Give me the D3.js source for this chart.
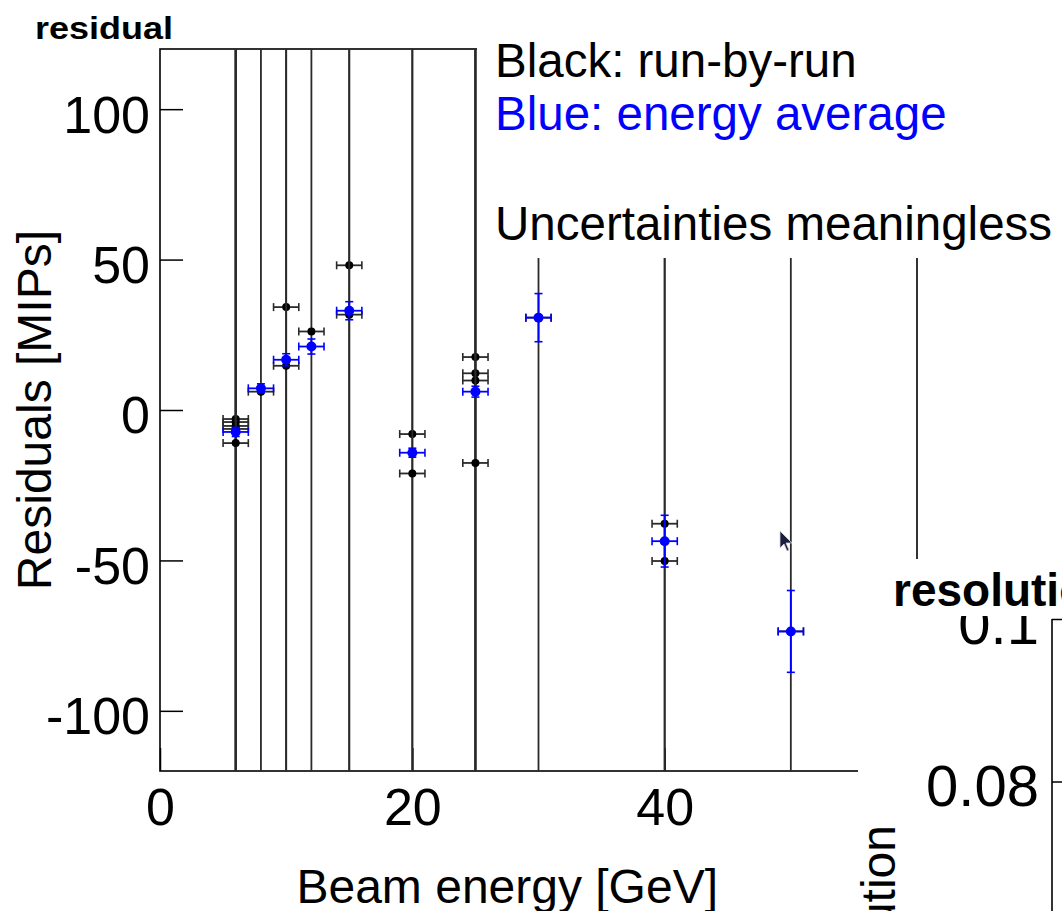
<!DOCTYPE html>
<html>
<head>
<meta charset="utf-8">
<script src="https://cdn.jsdelivr.net/npm/d3@7"></script>
<style>
  body { margin: 0; background: #fff; }
  text { font-family: "Liberation Sans", Arial, sans-serif; }
</style>
</head>
<body>
<script>
// run-by-run residuals (black), uncertainties meaningless -> huge y errors
var runEnergy   = [6, 6, 6, 6, 6, 8, 10, 10, 12, 15, 15, 20, 20, 25, 25, 25, 25, 30, 40, 40, 50];
var runResidual = [-3, -4, -5.3, -6.3, -11, 6.1, 34.2, 14.7, 26.1, 48.1, 31.7, -8, -21.1, 17.6, 12.2, 9.8, -17.6, 30.7, -37.8, -50.2, -73.6];
var runErrY     = [400, 400, 400, 400, 400, 400, 400, 400, 400, 400, 400, 400, 400, 400, 400, 400, 400, 400, 400, 400, 400];

// energy averaged residuals (blue)
var avgEnergy   = [6, 8, 10, 12, 15, 20, 25, 30, 40, 50];
var avgResidual = [-7.3, 7.2, 16.7, 21.1, 33, -14.2, 6.1, 30.7, -43.6, -73.6];
var avgErrY     = [1.5, 1.5, 2, 2.5, 3, 1.5, 1.8, 8, 8.6, 13.6];

var beamErrX = 1.0;

var xTicks = [0, 20, 40, 60];
var yTicks = [-100, -50, 0, 50, 100];
var resTicks = [0.08, 0.1];
var resTickLabels = ["0.08", "0.1"];

var width = 1062, height = 911;

var svg = d3.select("body")
  .append("svg")
  .attr("width", width)
  .attr("height", height);

var x = d3.scaleLinear().domain([0, 60]).range([160, 917]);
var y = d3.scaleLinear().domain([-120, 120]).range([771, 49]);

// title
svg.append("text")
  .attr("x", 35).attr("y", 39)
  .attr("textLength", 138).attr("lengthAdjust", "spacingAndGlyphs")
  .style("font-size", "31px").style("font-weight", "bold")
  .text("residual");

// axes (plain hyphen minus like ROOT)
var plain = function(d) { return String(d); };
var yAxis = svg.append("g")
  .attr("transform", "translate(160,0)")
  .call(d3.axisLeft(y).tickValues(yTicks).tickFormat(plain).tickSize(-23).tickSizeOuter(0).tickPadding(10));
var xAxis = svg.append("g")
  .attr("transform", "translate(0,771)")
  .call(d3.axisBottom(x).tickValues(xTicks).tickFormat(plain).tickSize(-23).tickSizeOuter(0).tickPadding(17));

[xAxis, yAxis].forEach(function(a) {
  a.select(".domain").remove();
  a.selectAll(".tick line").attr("stroke", "#000").attr("stroke-width", 1.5);
  a.selectAll(".tick text")
    .attr("fill", "#000")
    .style("font-family", "'Liberation Sans', Arial, sans-serif")
    .style("font-size", "52px");
});
yAxis.selectAll(".tick text").attr("dy", "0.44em");

// frame
svg.append("rect")
  .attr("x", x(0)).attr("y", y(120))
  .attr("width", x(60) - x(0)).attr("height", y(-120) - y(120))
  .attr("fill", "none").attr("stroke", "#000").attr("stroke-width", 1.6);

svg.append("text")
  .attr("x", 718).attr("y", 903)
  .attr("text-anchor", "end")
  .style("font-size", "48px")
  .text("Beam energy [GeV]");

svg.append("text")
  .attr("transform", "translate(51,230) rotate(-90)")
  .attr("text-anchor", "end")
  .style("font-size", "48px")
  .text("Residuals [MIPs]");

// data
svg.append("clipPath").attr("id", "frame")
  .append("rect")
  .attr("x", x(0)).attr("y", y(120))
  .attr("width", x(60) - x(0)).attr("height", y(-120) - y(120));

var plot = svg.append("g").attr("clip-path", "url(#frame)");

function drawSeries(ex, ey, eyErr, color, barColor, r) {
  var pts = ex.map(function(e, i) { return { e: e, v: ey[i], err: eyErr[i] }; });
  var g = plot.append("g");
  var cap = 4;
  var pt = g.selectAll("g.pt").data(pts).enter().append("g").attr("class", "pt");
  // vertical error
  pt.append("line")
    .attr("x1", function(d) { return x(d.e); }).attr("x2", function(d) { return x(d.e); })
    .attr("y1", function(d) { return y(d.v + d.err); }).attr("y2", function(d) { return y(d.v - d.err); })
    .attr("stroke", barColor).attr("stroke-width", 1.8);
  pt.selectAll("line.ycap").data(function(d) { return [d.v + d.err, d.v - d.err].map(function(v) { return { e: d.e, v: v }; }); })
    .enter().append("line").attr("class", "ycap")
    .attr("x1", function(d) { return x(d.e) - cap; }).attr("x2", function(d) { return x(d.e) + cap; })
    .attr("y1", function(d) { return y(d.v); }).attr("y2", function(d) { return y(d.v); })
    .attr("stroke", barColor).attr("stroke-width", 1.6);
  // horizontal error
  pt.append("line")
    .attr("x1", function(d) { return x(d.e - beamErrX); }).attr("x2", function(d) { return x(d.e + beamErrX); })
    .attr("y1", function(d) { return y(d.v); }).attr("y2", function(d) { return y(d.v); })
    .attr("stroke", barColor).attr("stroke-width", 1.8);
  pt.selectAll("line.xcap").data(function(d) { return [d.e - beamErrX, d.e + beamErrX].map(function(e) { return { e: e, v: d.v }; }); })
    .enter().append("line").attr("class", "xcap")
    .attr("x1", function(d) { return x(d.e); }).attr("x2", function(d) { return x(d.e); })
    .attr("y1", function(d) { return y(d.v) - cap; }).attr("y2", function(d) { return y(d.v) + cap; })
    .attr("stroke", barColor).attr("stroke-width", 1.6);
  pt.append("circle")
    .attr("cx", function(d) { return x(d.e); }).attr("cy", function(d) { return y(d.v); })
    .attr("r", r).attr("fill", color);
}

drawSeries(runEnergy, runResidual, runErrY, "#000", "#2a2a2a", 4);
drawSeries(avgEnergy, avgResidual, avgErrY, "#0000ff", "#0000ff", 5);

// legend box over the top right
svg.append("rect")
  .attr("x", 477).attr("y", 0).attr("width", width - 477).attr("height", 258)
  .attr("fill", "#fff");

var legend = [
  { t: "Black: run-by-run", c: "#000", yb: 77 },
  { t: "Blue: energy average", c: "#0000ff", yb: 130 },
  { t: "Uncertainties meaningless", c: "#000", yb: 240 }
];
svg.selectAll("text.leg").data(legend).enter().append("text")
  .attr("class", "leg")
  .attr("x", 495).attr("y", function(d) { return d.yb; })
  .attr("fill", function(d) { return d.c; })
  .style("font-size", "47.5px")
  .text(function(d) { return d.t; });

// second pad (resolution), partly visible
var pad = svg.append("g");
pad.append("rect")
  .attr("x", 858).attr("y", 559).attr("width", width - 858).attr("height", height - 559)
  .attr("fill", "#fff");

var r = d3.scaleLinear().domain([0.08, 0.1]).range([781.5, 619]);
var rAxis = pad.append("g")
  .attr("transform", "translate(1052,0)")
  .call(d3.axisLeft(r).tickValues(resTicks).tickSize(-30).tickSizeOuter(0).tickPadding(13)
    .tickFormat(function(d, i) { return resTickLabels[i]; }));
rAxis.select(".domain").remove();
rAxis.selectAll(".tick line").attr("stroke", "#000").attr("stroke-width", 1.5);
rAxis.selectAll(".tick text")
  .attr("fill", "#000").attr("dy", "0.42em")
  .style("font-family", "'Liberation Sans', Arial, sans-serif")
  .style("font-size", "58px");
pad.append("line")
  .attr("x1", 1052).attr("x2", 1052).attr("y1", r(0.1)).attr("y2", height)
  .attr("stroke", "#000").attr("stroke-width", 1.6);

// title box of the second pad clips the top of "0.1"
pad.append("rect")
  .attr("x", 880).attr("y", 559).attr("width", width - 880).attr("height", 57)
  .attr("fill", "#fff");
pad.append("text")
  .attr("x", 893).attr("y", 606)
  .style("font-size", "46px").style("font-weight", "bold")
  .text("resolution");
pad.append("text")
  .attr("transform", "translate(895,825) rotate(-90)")
  .attr("text-anchor", "end")
  .style("font-size", "48px")
  .text("Resolution");

// mouse pointer left in the screenshot
svg.append("path")
  .attr("transform", "translate(780,531)")
  .attr("d", "M0,0 L0,17 L4,13 L7,20 L9,19 L6,12 L12,12 Z")
  .attr("fill", "#1c1f3a").attr("stroke", "#cfd3e0").attr("stroke-width", 0.8);
</script>
</body>
</html>
